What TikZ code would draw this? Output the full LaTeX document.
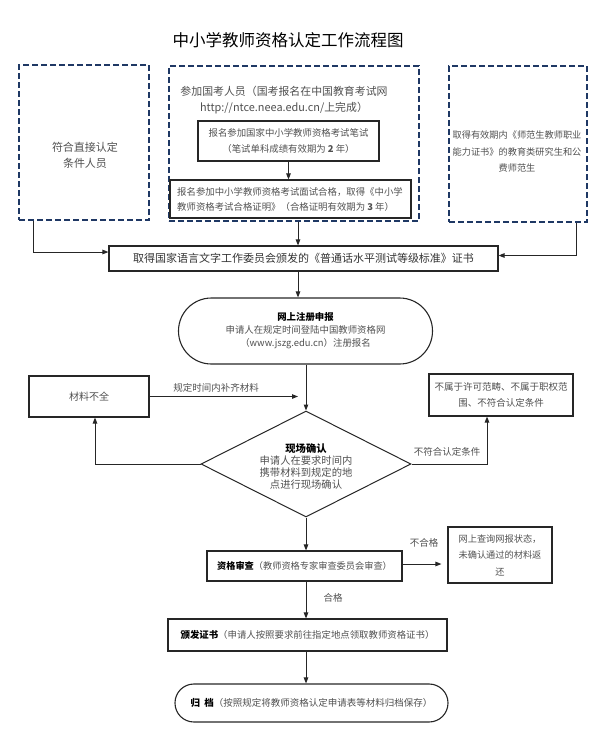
\documentclass[tikz,border=0pt]{standalone}
\usepackage{fontspec}
\setmainfont{Noto Sans CJK SC}
\usetikzlibrary{arrows.meta,shapes.geometric,calc}
\definecolor{navy}{HTML}{1F3864}
\definecolor{txt}{HTML}{505050}
\definecolor{txtd}{HTML}{333333}
\begin{document}
\begin{tikzpicture}[x=1pt,y=-1pt,
  dbox/.style={draw=navy,line width=1.8pt,dash pattern=on 6pt off 3pt,inner sep=0pt},
  sbox/.style={draw=black!85,line width=1.1pt,inner sep=0pt,align=center,text=txt},
  arr/.style={draw=black!85,line width=1pt,-{Triangle[length=6pt,width=4.5pt]}},
  t/.style={text=txt,align=center,inner sep=0pt},
]
\useasboundingbox (0,0) rectangle (599,753);

% title
\node[inner sep=0pt,font=\fontsize{16.5}{18}\selectfont,text=black] (title) at (288,40) {中小学教师资格认定工作流程图};

% top dashed boxes
\node[dbox,minimum width=130pt,minimum height=155pt] (L) at (84,142.5) {};
\node[t,font=\fontsize{11}{16}\selectfont] (Lt) at (85,155) {符合直接认定\\条件人员};

\node[dbox,minimum width=250pt,minimum height=155pt] (M) at (294,143.5) {};
\node[t,font=\fontsize{10.9}{16}\selectfont] (Mt) at (284,100) {参加国考人员（国考报名在中国教育考试网\\http://ntce.neea.edu.cn/上完成）};
\node[sbox,minimum width=181pt,minimum height=40pt,font=\fontsize{9.4}{16}\selectfont] (M1) at (288.5,141) {报名参加国家中小学教师资格考试笔试\\（笔试单科成绩有效期为 \textbf{2} 年）};
\node[sbox,minimum width=241pt,minimum height=38pt] (M2) at (290.5,199) {};
\node[t,align=left,anchor=west,font=\fontsize{9.4}{15}\selectfont] (M2t) at (177,199.5) {报名参加中小学教师资格考试面试合格，取得《中小学\\教师资格考试合格证明》（合格证明有效期为 \textbf{3} 年）};

\node[dbox,minimum width=138pt,minimum height=156pt] (R) at (518,144) {};
\node[t,font=\fontsize{9.2}{16.5}\selectfont] (Rt) at (517,151.5) {取得有效期内《师范生教师职业\\能力证书》的教育类研究生和公\\费师范生};

% mandarin certificate
\node[sbox,minimum width=389pt,minimum height=25pt,text=txtd,font=\fontsize{11}{14}\selectfont] (P) at (303.5,258.5) {取得国家语言文字工作委员会颁发的《普通话水平测试等级标准》证书};

% online registration
\node[sbox,rounded corners=32.9pt,minimum width=254pt,minimum height=66pt,font=\fontsize{9.4}{13}\selectfont] (Reg) at (305.5,331) {\textcolor{black}{\textbf{网上注册申报}}\\申请人在规定时间登陆中国教师资格网\\（www.jszg.edu.cn）注册报名};

% diamond
\node[draw=black!85,line width=1pt,diamond,minimum width=210pt,minimum height=106pt,inner sep=0pt] (D) at (306,464) {};
\node[t,font=\fontsize{10.3}{12}\selectfont] (Dt) at (306,467) {\textcolor{black}{\textbf{现场确认}}\\申请人在要求时间内\\携带材料到规定的地\\点进行现场确认};

% side boxes
\node[sbox,minimum width=120pt,minimum height=41pt,font=\fontsize{10}{14}\selectfont] (Mat) at (89,396.5) {材料不全};
\node[sbox,minimum width=144pt,minimum height=42pt,font=\fontsize{9.5}{16}\selectfont] (Out) at (501,395) {不属于许可范畴、不属于职权范\\围、不符合认定条件};
\coordinate (matend) at (298,396.5);

% review
\node[sbox,minimum width=195pt,minimum height=30pt,font=\fontsize{9.2}{14}\selectfont] (Rev) at (304.5,566) {\textcolor{black}{\textbf{资格审查}}（教师资格专家审查委员会审查）};
\node[sbox,minimum width=104pt,minimum height=56pt,font=\fontsize{9.2}{16.5}\selectfont] (Ret) at (500,555) {网上查询网报状态，\\未确认通过的材料返\\还};

% certificate and archive
\node[sbox,minimum width=279pt,minimum height=32pt,font=\fontsize{9.4}{14}\selectfont] (Cert) at (307.5,635) {\textcolor{black}{\textbf{颁发证书}}（申请人按照要求前往指定地点领取教师资格证书）};
\node[sbox,rounded corners=18.9pt,minimum width=273pt,minimum height=38pt,font=\fontsize{9.5}{14}\selectfont] (Arch) at (311.5,703) {\textcolor{black}{\textbf{归\ \ 档}}（按照规定将教师资格认定申请表等材料归档保存）};

% labels
\node[t,font=\fontsize{9.5}{12}\selectfont] (lb1) at (216,388) {规定时间内补齐材料};
\node[t,font=\fontsize{9.5}{12}\selectfont] (lb2) at (447,452) {不符合认定条件};
\node[t,font=\fontsize{9.5}{12}\selectfont] (lb3) at (424,543) {不合格};
\node[t,font=\fontsize{9.5}{12}\selectfont] (lb4) at (333,598) {合格};

% connectors
\draw[arr] (M1.south) -- (M1.south |- M2.north);
\draw[arr] ([xshift=4pt]M.south) -- ([xshift=4pt]M.south |- P.north);
\draw[arr] ([xshift=-51pt]L.south) |- ([yshift=6.5pt]P.west);
\draw[arr] ([xshift=58pt]R.south) |- ([yshift=3pt]P.east);
\draw[arr] ([xshift=-5.5pt]P.south) -- ([xshift=-5.5pt]P.south |- Reg.north);
\draw[arr] (Reg.south -| D.north) -- (D.north);
\draw[arr] (D.west) -| ([xshift=6pt]Mat.south);
\draw[arr] (Mat.east) -- (matend);
\draw[arr] (D.east) -| ([xshift=-14pt]Out.south);
\draw[arr] (D.south) -- (D.south |- Rev.north);
\draw[arr,shorten >=6pt] ([yshift=2pt]Rev.east) -- ([yshift=2pt]Rev.east -| Ret.west);
\draw[arr] (D.south |- Rev.south) -- (D.south |- Cert.north);
\draw[arr] (D.south |- Cert.south) -- (D.south |- Arch.north);
\end{tikzpicture}
\end{document}
